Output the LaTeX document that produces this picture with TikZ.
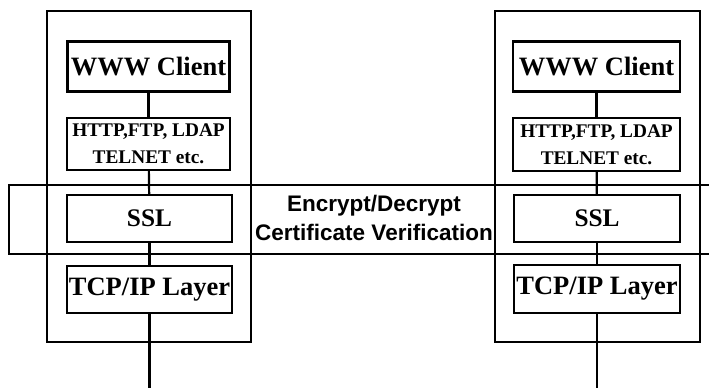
\documentclass[tikz,border=0pt]{standalone}
\usepackage{fontspec}
\setmainfont{Liberation Serif}
\setsansfont{Liberation Sans}

\begin{document}
\begin{tikzpicture}[x=1pt,y=-1pt,line width=2.2pt,
  layer/.style={draw,inner sep=1pt,font=\bfseries},
  big/.style={layer,font=\fontsize{26.5}{30}\selectfont\bfseries}]
  \useasboundingbox (0,0) rectangle (709,388);
  \draw (47,11) rectangle (251,342);
  \draw (495,11) rectangle (700,342);
  \draw (9,185) rectangle (720,254);
  \node[big,minimum width=162pt,minimum height=50pt] (0) at (148.5,66.5) {WWW Client};
  \node[layer,minimum width=163pt,minimum height=52pt,align=center,
    font=\fontsize{19.3}{27}\selectfont\bfseries] (1) at (148.5,144) {HTTP,FTP, LDAP\\TELNET etc.};
  \node[big,minimum width=165pt,minimum height=47pt,font=\fontsize{25.3}{30}\selectfont\bfseries] (2) at (149.5,218.5) {SSL};
  \node[big,minimum width=165pt,minimum height=47pt] (3) at (149.5,289.5) {TCP/IP Layer};
  \node[big,minimum width=167pt,minimum height=50pt] (4) at (596.5,66.5) {WWW Client};
  \node[layer,minimum width=167pt,minimum height=53pt,align=center,
    font=\fontsize{19.3}{27}\selectfont\bfseries] (5) at (596.5,144.5) {HTTP,FTP, LDAP\\TELNET etc.};
  \node[big,minimum width=166pt,minimum height=47pt,font=\fontsize{25.3}{30}\selectfont\bfseries] (6) at (597,218.5) {SSL};
  \node[big,minimum width=166pt,minimum height=48pt] (7) at (597,289) {TCP/IP Layer};
  \node[inner sep=0pt,align=center,font=\fontsize{22.5}{29}\selectfont\sffamily\bfseries] (8) at (374,217.5)
    {Encrypt/Decrypt\\Certificate Verification};
  \coordinate (9) at (149.5,388);
  \coordinate (10) at (597,388);
  \draw (0)--(1);
  \draw (1)--(2);
  \draw (2)--(3);
  \draw (3)--(9);
  \draw (4)--(5);
  \draw (5)--(6);
  \draw (6)--(7);
  \draw (7)--(10);
\end{tikzpicture}
\end{document}
